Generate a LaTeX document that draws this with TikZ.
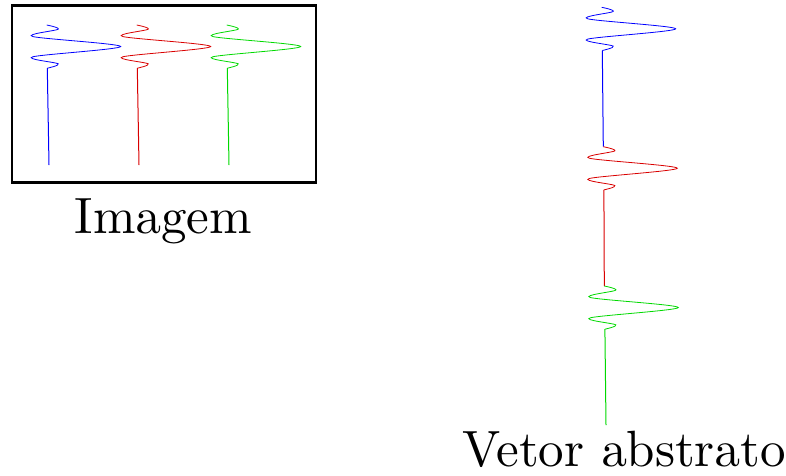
\documentclass[tikz,border=0pt]{standalone}
\font\labfont=cmr10 at 51pt
\begin{document}
\begin{tikzpicture}[x=1pt,y=-1pt,
  trace/.style={line width=0.8pt},
  stem/.style={line width=1pt},
  wavelet/.pic={\draw[pic actions] plot[smooth,tension=0.5] coordinates {(0,0) (11.5,4.2) (-14,11.5) (74,21.5) (-14,31.8) (11.5,38.8) (0.6,43.2)};},
  lab/.style={anchor=base,inner sep=0pt,font=\labfont}]
\useasboundingbox (0,0) rectangle (786,475);
% framed image
\node[draw,line width=2.2pt,minimum width=304pt,minimum height=177pt,inner sep=0pt] (frame) at (164.2,94) {};
\node[lab] (imagem) at (163.3,233.3) {Imagem};
% left traces
\pic[blue,trace] at (46.7,25) {wavelet};
\draw[blue,stem] (47.3,68.2) -- (49,165);
\pic[red!85!black,trace] at (136.7,25) {wavelet};
\draw[red!85!black,stem] (137.3,68.2) -- (139,165);
\pic[green!85!black,trace] at (226.7,25) {wavelet};
\draw[green!85!black,stem] (227.3,68.2) -- (229,165);
% abstract vector
\pic[blue,trace] at (601.7,7.3) {wavelet};
\draw[blue,stem] (602.3,50.5) -- (603.3,146.7);
\pic[red!85!black,trace] at (603.3,146.7) {wavelet};
\draw[red!85!black,stem] (603.9,189.9) -- (604.3,286);
\pic[green!85!black,trace] at (604.3,286) {wavelet};
\draw[green!85!black,stem] (604.9,329.2) -- (606,425);
\node[lab] (vetor) at (624.2,466) {Vetor abstrato};
\end{tikzpicture}
\end{document}
